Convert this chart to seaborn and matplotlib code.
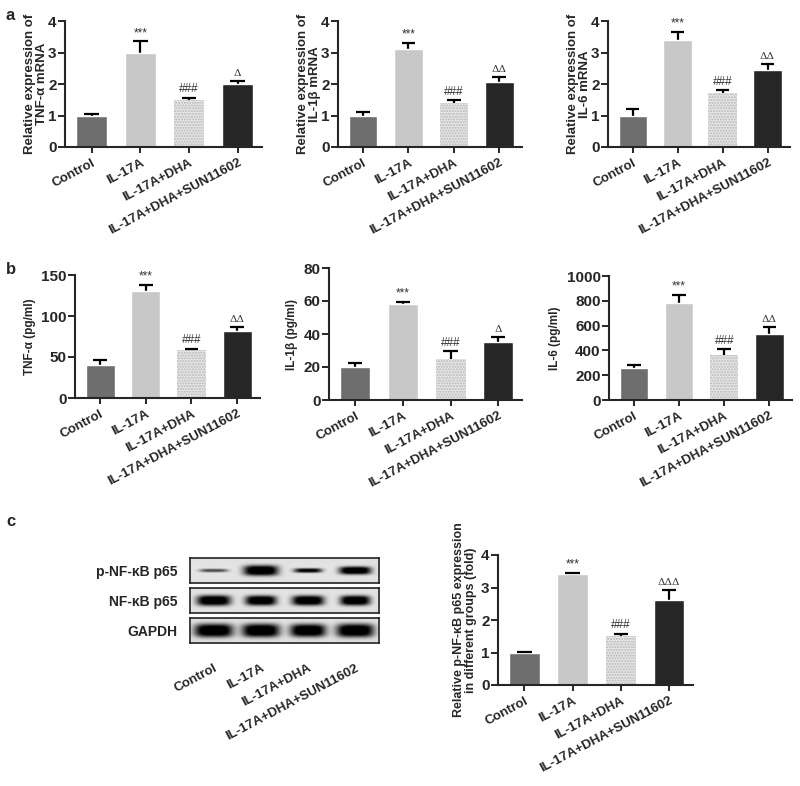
import numpy as np
import seaborn as sns
import matplotlib.pyplot as plt

groups = ["Control", "IL-17A", "IL-17A+DHA", "IL-17A+DHA+SUN11602"]
bar_colors = ["#6e6e6e", "#c8c8c8", "#e6e6e6", "#262626"]

# panel a: mRNA (relative expression)
tnf_mrna = [1.0, 3.0, 1.5, 2.0]
tnf_mrna_err = [0.05, 0.35, 0.06, 0.1]
il1b_mrna = [1.0, 3.1, 1.4, 2.05]
il1b_mrna_err = [0.12, 0.2, 0.08, 0.18]
il6_mrna = [1.0, 3.4, 1.7, 2.45]
il6_mrna_err = [0.2, 0.26, 0.1, 0.17]

# panel b: ELISA (pg/ml)
tnf_elisa = [40, 130, 58, 82]
tnf_elisa_err = [6, 8, 2, 4]
il1b_elisa = [20, 58, 25, 35]
il1b_elisa_err = [2.5, 1.5, 4.5, 3]
il6_elisa = [255, 780, 365, 530]
il6_elisa_err = [25, 70, 45, 55]

# panel c: western blot quantification
p65_fold = [1.0, 3.42, 1.52, 2.62]
p65_fold_err = [0.02, 0.04, 0.06, 0.3]

sig_marks = {
    "tnf_mrna": ["", "***", "###", "\u0394"],
    "il1b_mrna": ["", "***", "###", "\u0394\u0394"],
    "il6_mrna": ["", "***", "###", "\u0394\u0394"],
    "tnf_elisa": ["", "***", "###", "\u0394\u0394"],
    "il1b_elisa": ["", "***", "###", "\u0394"],
    "il6_elisa": ["", "***", "###", "\u0394\u0394"],
    "p65_fold": ["", "***", "###", "\u0394\u0394\u0394"],
}

# blot bands: darkness (0-1), half thickness (fraction of strip), half width (lanes)
blot_rows = ["p-NF-\u03baB p65", "NF-\u03baB p65", "GAPDH"]
band_strength = [[0.55, 1.0, 0.85, 1.0], [1.0, 1.0, 1.0, 1.0], [1.0, 1.0, 1.0, 1.0]]
band_thick = [[0.07, 0.21, 0.09, 0.16], [0.21, 0.2, 0.2, 0.2], [0.27, 0.27, 0.26, 0.27]]
band_width = [[0.3, 0.37, 0.3, 0.34], [0.36, 0.33, 0.34, 0.32], [0.41, 0.4, 0.38, 0.4]]

sns.set_style("ticks")
plt.rcParams["font.family"] = ["Liberation Sans", "DejaVu Sans"]
plt.rcParams["font.weight"] = "bold"
plt.rcParams["axes.labelweight"] = "bold"

fig = plt.figure(figsize=(8, 7.86), dpi=100)


def bar_panel(rect, vals, errs, ylim, yticks, ylabel, marks, ylabel_size, lab_pad):
    ax = fig.add_axes(rect)
    sns.barplot(x=groups, y=vals, hue=groups, palette=bar_colors, legend=False,
                saturation=1, width=0.63, ax=ax, zorder=2)
    dha = ax.patches[2]
    dha.set_hatch("......")
    dha.set_edgecolor("#b8b8b8")
    dha.set_linewidth(0)
    x = np.arange(len(vals))
    tops = np.array(vals) + np.array(errs)
    ax.vlines(x, vals, tops, color="black", lw=1.6, zorder=1)
    ax.hlines(tops, x - 0.15, x + 0.15, color="black", lw=1.6, zorder=3)
    span = ylim[1] - ylim[0]
    for xi, t, m in zip(x, tops, marks):
        if m:
            if "\u0394" in m:
                ax.text(xi, t + span * 0.025, m, ha="center", va="bottom", fontsize=7.5,
                        fontweight="normal", color="#333333", family=["DejaVu Serif"])
            else:
                ax.text(xi, t + span * 0.02, m, ha="center", va="bottom", fontsize=8.5,
                        fontweight="normal", color="#333333", family=["Liberation Sans"])
    ax.set_ylim(*ylim)
    ax.set_yticks(yticks)
    ax.set_xlim(-0.55, 3.5)
    ax.set_ylabel(ylabel, fontsize=ylabel_size, fontweight="bold", labelpad=lab_pad,
                  linespacing=1.0)
    ax.set_xlabel("")
    ax.set_xticks(x)
    ax.set_xticklabels(groups, rotation=28, ha="right", rotation_mode="anchor",
                       fontsize=9.5, fontweight="bold")
    for lab in ax.get_yticklabels():
        lab.set_fontweight("bold")
    ax.tick_params(axis="y", labelsize=11, width=1.4, length=5, pad=1)
    ax.tick_params(axis="x", width=1.4, length=4, pad=3)
    sns.despine(ax=ax)
    for s in ["left", "bottom"]:
        ax.spines[s].set_linewidth(1.5)
    return ax


H = 786.0
W = 800.0


def rect(l, r, top, bot):
    return [l / W, 1 - bot / H, (r - l) / W, (bot - top) / H]


bar_panel(rect(65, 262, 21, 147), tnf_mrna, tnf_mrna_err, (0, 4), [0, 1, 2, 3, 4],
          "Relative expression of\nTNF-\u03b1 mRNA", sig_marks["tnf_mrna"], 9.5, 0)
bar_panel(rect(338, 522, 21, 147), il1b_mrna, il1b_mrna_err, (0, 4), [0, 1, 2, 3, 4],
          "Relative expression of\nIL-1\u03b2 mRNA", sig_marks["il1b_mrna"], 9.5, 0)
bar_panel(rect(608, 790, 21, 147), il6_mrna, il6_mrna_err, (0, 4), [0, 1, 2, 3, 4],
          "Relative expression of\nIL-6 mRNA", sig_marks["il6_mrna"], 9.5, 0)

bar_panel(rect(75, 260, 275, 398), tnf_elisa, tnf_elisa_err, (0, 150), [0, 50, 100, 150],
          "TNF-\u03b1 (pg/ml)", sig_marks["tnf_elisa"], 8.5, 4)
bar_panel(rect(329, 522, 268, 400), il1b_elisa, il1b_elisa_err, (0, 80), [0, 20, 40, 60, 80],
          "IL-1\u03b2 (pg/ml)", sig_marks["il1b_elisa"], 8.5, 4)
bar_panel(rect(609, 792, 276, 400), il6_elisa, il6_elisa_err, (0, 1000),
          [0, 200, 400, 600, 800, 1000],
          "IL-6 (pg/ml)", sig_marks["il6_elisa"], 8.5, 4)

bar_panel(rect(498, 693, 555, 685), p65_fold, p65_fold_err, (0, 4), [0, 1, 2, 3, 4],
          "Relative p-NF-\u03baB p65 expression\nin different groups (fold)",
          sig_marks["p65_fold"], 9, 3)

# western blot strips
xs = np.linspace(-0.5, 3.5, 400)
ys = np.linspace(0, 1, 80)
XX, YY = np.meshgrid(xs, ys)
strip_tops = [558, 588, 618]
for r, (name, top) in enumerate(zip(blot_rows, strip_tops)):
    ax = fig.add_axes(rect(190, 379, top, top + 25))
    img = 0.9 - 0.04 * np.abs(YY - 0.5)
    for lane in range(4):
        sx = np.exp(-np.abs((XX - lane) / band_width[r][lane]) ** 4)
        sy = np.exp(-np.abs((YY - 0.5) / band_thick[r][lane]) ** 3)
        img = img - 1.1 * band_strength[r][lane] * sx * sy
    img = np.clip(img, 0.0, 1)
    ax.imshow(img, cmap="gray", vmin=0, vmax=1, aspect="auto",
              extent=(-0.5, 3.5, 0, 1), interpolation="bilinear")
    ax.set_xlim(-0.5, 3.5)
    ax.set_ylim(0, 1)
    ax.set_yticks([0.5])
    ax.set_yticklabels([name], fontsize=10, fontweight="bold")
    ax.tick_params(axis="y", length=0, pad=9)
    for s in ax.spines.values():
        s.set_linewidth(1.2)
        s.set_color("#222222")
    if r == 2:
        ax.set_xticks(np.arange(4))
        ax.set_xticklabels(groups, rotation=28, ha="right", rotation_mode="anchor",
                           fontsize=9.5, fontweight="bold")
        ax.tick_params(axis="x", length=0, pad=14)
    else:
        ax.set_xticks([])

for letter, ypix in [("a", 8), ("b", 262), ("c", 514)]:
    fig.text(6 / W, 1 - ypix / H, letter, fontsize=12, fontweight="bold", va="top")

fig.savefig("out.png", dpi=100)
